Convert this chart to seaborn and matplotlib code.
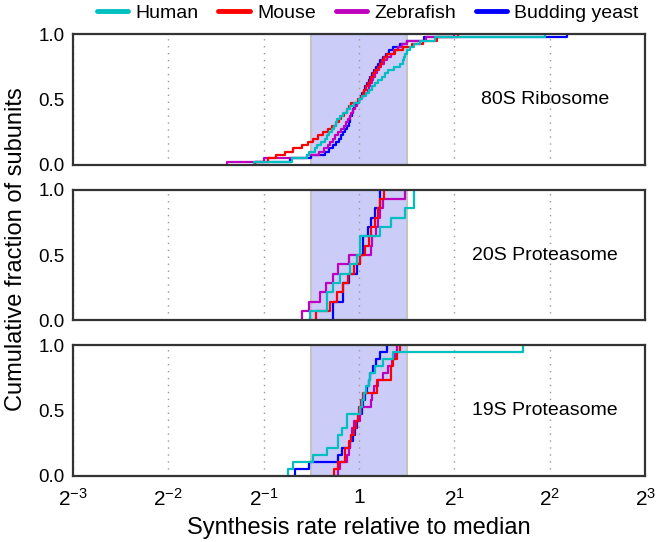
import pandas as pd
import seaborn as sns
import matplotlib.pyplot as plt
from matplotlib.lines import Line2D

species = ["Human", "Mouse", "Zebrafish", "Budding yeast"]
colors = ["#00bfbf", "#ff0000", "#bf00bf", "#0000ff"]
complexes = ["80S Ribosome", "20S Proteasome", "19S Proteasome"]

# log2(synthesis rate / median) for each subunit
ribo_human = [-1.10, -0.70, -0.55, -0.52, -0.46, -0.44, -0.40, -0.36, -0.34, -0.31,
              -0.28, -0.26, -0.24, -0.23, -0.20, -0.17, -0.13, -0.09, -0.05, 0.00,
              0.03, 0.07, 0.10, 0.14, 0.17, 0.20, 0.24, 0.27, 0.30, 0.37,
              0.43, 0.46, 0.47, 0.48, 0.50, 0.53, 0.58, 0.64, 0.80, 1.95]
ribo_mouse = [-1.09, -0.95, -0.87, -0.78, -0.69, -0.60, -0.54, -0.48, -0.43, -0.38,
              -0.33, -0.28, -0.24, -0.21, -0.19, -0.16, -0.13, -0.11, -0.08, -0.01,
              0.02, 0.04, 0.05, 0.07, 0.09, 0.11, 0.13, 0.15, 0.17, 0.20,
              0.22, 0.24, 0.26, 0.29, 0.38, 0.46, 0.56, 0.67, 0.82, 1.04]
ribo_zfish = [-1.385, -1.00, -0.55, -0.42, -0.37, -0.33, -0.30, -0.27, -0.25, -0.22,
              -0.19, -0.16, -0.14, -0.12, -0.10, -0.08, -0.06, -0.04, -0.02, 0.00,
              0.03, 0.06, 0.09, 0.10, 0.12, 0.14, 0.15, 0.17, 0.19, 0.21,
              0.23, 0.26, 0.29, 0.33, 0.37, 0.41, 0.45, 0.50, 0.70, 1.00]
ribo_yeast = [-1.09, -0.72, -0.50, -0.36, -0.31, -0.27, -0.24, -0.21, -0.19, -0.17,
              -0.15, -0.13, -0.11, -0.10, -0.09, -0.07, -0.06, -0.05, -0.03, 0.00,
              0.02, 0.03, 0.05, 0.06, 0.08, 0.10, 0.12, 0.14, 0.16, 0.18,
              0.20, 0.22, 0.25, 0.28, 0.31, 0.36, 0.43, 0.50, 0.68, 2.18]

p20_human = [-0.51, -0.34, -0.34, -0.27, -0.20, -0.10, -0.02, 0.01, 0.01, 0.22,
             0.33, 0.48, 0.58, 0.58]
p20_mouse = [-0.45, -0.30, -0.23, -0.17, -0.12, -0.05, 0.01, 0.06, 0.10, 0.13,
             0.17, 0.20, 0.22, 0.26]
p20_zfish = [-0.60, -0.53, -0.41, -0.35, -0.27, -0.22, -0.11, 0.13, 0.14, 0.18,
             0.20, 0.22, 0.25, 0.48]
p20_yeast = [-0.27, -0.27, -0.17, -0.17, -0.11, -0.02, 0.01, 0.04, 0.04, 0.09,
             0.13, 0.17, 0.22, 0.22]

p19_human = [-0.75, -0.69, -0.48, -0.34, -0.22, -0.22, -0.18, -0.13, -0.13, 0.01,
             0.03, 0.05, 0.07, 0.10, 0.12, 0.17, 0.25, 0.36, 1.72]
p19_mouse = [-0.26, -0.22, -0.15, -0.15, -0.11, -0.08, -0.05, -0.03, -0.01, 0.00,
             0.02, 0.04, 0.19, 0.19, 0.33, 0.33, 0.36, 0.40, 0.43]
p19_zfish = [-0.22, -0.20, -0.13, -0.11, -0.10, -0.08, -0.07, -0.05, 0.01, 0.02,
             0.13, 0.14, 0.16, 0.20, 0.25, 0.30, 0.35, 0.38, 0.40]
p19_yeast = [-0.67, -0.53, -0.22, -0.18, -0.09, -0.06, -0.04, -0.02, 0.00, 0.03,
             0.04, 0.06, 0.08, 0.10, 0.12, 0.15, 0.18, 0.22, 0.29]

band_lo, band_hi = 2 ** -0.5, 2 ** 0.5
xtick_exp = [-3, -2, -1, 0, 1, 2, 3]
xtick_labels = ["$2^{-3}$", "$2^{-2}$", "$2^{-1}$", "1", "$2^{1}$", "$2^{2}$", "$2^{3}$"]

data = {
    "80S Ribosome": [ribo_human, ribo_mouse, ribo_zfish, ribo_yeast],
    "20S Proteasome": [p20_human, p20_mouse, p20_zfish, p20_yeast],
    "19S Proteasome": [p19_human, p19_mouse, p19_zfish, p19_yeast],
}

rows = []
for name in complexes:
    for sp, vals in zip(species, data[name]):
        for v in vals:
            rows.append({"complex": name, "species": sp, "rate": 2.0 ** v})
df = pd.DataFrame(rows)

sns.set_style("white")
plt.rcParams["font.family"] = ["Liberation Sans", "DejaVu Sans"]
plt.rcParams["mathtext.default"] = "regular"
for key in ["text.color", "axes.labelcolor", "xtick.color", "ytick.color"]:
    plt.rcParams[key] = "black"

fig, axes = plt.subplots(3, 1, figsize=(6.57, 5.42), dpi=100, sharex=True)
fig.subplots_adjust(left=0.111, right=0.982, top=0.937, bottom=0.122, hspace=0.19)

for ax, name in zip(axes, complexes):
    sub = df[df["complex"] == name]
    ax.axvspan(band_lo, band_hi, facecolor="#ccccf9", edgecolor="#c4c4c4", lw=1.5, zorder=0)
    sns.ecdfplot(data=sub, x="rate", hue="species", hue_order=species, palette=colors,
                 log_scale=2, lw=1.6, legend=False, ax=ax)
    ax.set_xlim(2 ** -3, 2 ** 3)
    ax.set_ylim(0, 1)
    ax.set_yticks([0, 0.5, 1])
    ax.set_yticklabels(["0.0", "0.5", "1.0"])
    ax.set_xticks([2.0 ** e for e in xtick_exp])
    ax.minorticks_off()
    ax.grid(True, axis="x", linestyle=(0, (1, 4)), color="#999999", lw=1)
    ax.set_axisbelow(True)
    ax.tick_params(axis="y", length=0, labelsize=13.5, pad=6)
    ax.tick_params(axis="x", length=0, pad=9)
    ax.set_xlabel("")
    ax.set_ylabel("")
    for s in ax.spines.values():
        s.set_color("#333333")
        s.set_linewidth(1.6)
    ax.text(0.825, 0.5, name, transform=ax.transAxes, ha="center", va="center", fontsize=14)

axes[-1].set_xticklabels(xtick_labels, fontsize=15)
axes[-1].set_xlabel("Synthesis rate relative to median", fontsize=17, labelpad=5)
fig.text(0.024, 0.54, "Cumulative fraction of subunits", rotation=90,
         ha="center", va="center", fontsize=17)

handles = [Line2D([], [], color=c, lw=3.5) for c in colors]
fig.legend(handles, species, loc="upper center", bbox_to_anchor=(0.56, 1.025), ncol=4,
           frameon=False, fontsize=14, handlelength=1.6, handletextpad=0.4,
           columnspacing=1.0)

fig.savefig("out.png", dpi=100)
